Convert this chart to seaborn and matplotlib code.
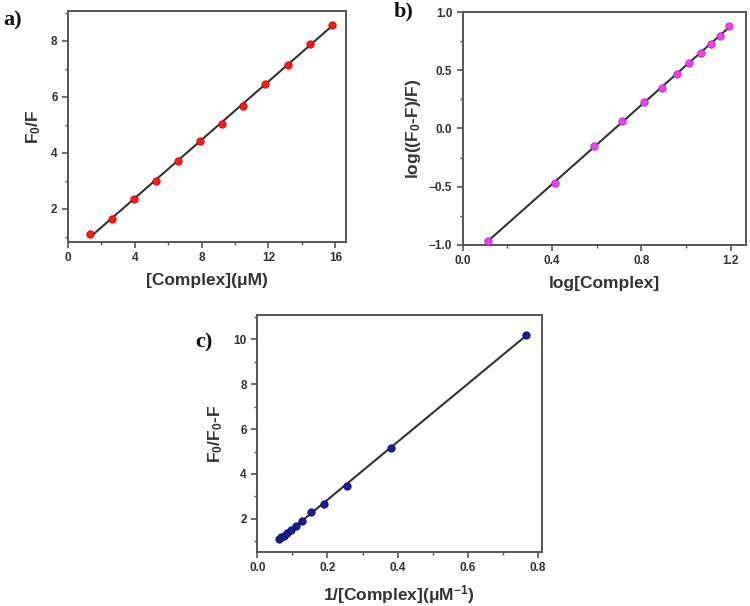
import matplotlib
matplotlib.use("Agg")
import matplotlib.pyplot as plt
import numpy as np
import pandas as pd
import seaborn as sns
from matplotlib.ticker import AutoMinorLocator, MultipleLocator, FormatStrFormatter

# panel a: Stern-Volmer
conc_um = [1.32, 2.63, 3.95, 5.26, 6.58, 7.89, 9.21, 10.5, 11.8, 13.15, 14.47, 15.78]
f0_over_f = [1.09, 1.65, 2.36, 2.98, 3.70, 4.43, 5.03, 5.69, 6.45, 7.14, 7.90, 8.56]

# panel b: double log
log_conc = [0.115, 0.414, 0.589, 0.715, 0.813, 0.891, 0.958, 1.014, 1.066, 1.111, 1.151, 1.192]
log_quench = [-0.963, -0.466, -0.149, 0.063, 0.224, 0.350, 0.470, 0.566, 0.648, 0.725, 0.793, 0.879]

# panel c: modified Stern-Volmer
inv_conc = [0.063, 0.069, 0.076, 0.085, 0.095, 0.109, 0.127, 0.153, 0.191, 0.255, 0.382, 0.765]
f0_over_df = [1.10, 1.17, 1.25, 1.36, 1.50, 1.68, 1.90, 2.30, 2.68, 3.48, 5.18, 10.18]

sns.set_style("ticks")
plt.rcParams["font.family"] = ["Liberation Sans", "DejaVu Sans"]
plt.rcParams["font.weight"] = "bold"
plt.rcParams["mathtext.fontset"] = "custom"
plt.rcParams["mathtext.rm"] = "Liberation Sans:bold"
plt.rcParams["mathtext.bf"] = "Liberation Sans:bold"
plt.rcParams["mathtext.default"] = "bf"

AXIS_GRAY = "#555555"
TEXT_GRAY = "#333333"
LABEL_SIZE = 12.5


def style_axes(ax, xmajor, ymajor):
    for sp in ax.spines.values():
        sp.set_visible(True)
        sp.set_color(AXIS_GRAY)
        sp.set_linewidth(1.4)
    ax.xaxis.set_major_locator(MultipleLocator(xmajor))
    ax.yaxis.set_major_locator(MultipleLocator(ymajor))
    ax.xaxis.set_minor_locator(AutoMinorLocator(2))
    ax.yaxis.set_minor_locator(AutoMinorLocator(2))
    ax.tick_params(which="major", direction="out", length=4, width=1.2,
                   color=AXIS_GRAY, labelsize=8.5, labelcolor=TEXT_GRAY,
                   top=False, right=False)
    ax.tick_params(which="minor", direction="out", length=2.5, width=1.0,
                   color=AXIS_GRAY, top=False, right=False)
    for lab in ax.get_xticklabels() + ax.get_yticklabels():
        lab.set_fontweight("bold")


def panel(ax, x, y, color, edge):
    df = pd.DataFrame({"x": x, "y": y})
    sns.regplot(data=df, x="x", y="y", ax=ax, scatter=False, ci=None,
                line_kws={"color": "#333333", "lw": 1.5})
    sns.scatterplot(data=df, x="x", y="y", ax=ax, color=color, s=28,
                    edgecolor=edge, linewidth=0.6, zorder=3)


fig = plt.figure(figsize=(7.5, 6.06), dpi=100)

ax_a = fig.add_axes([0.0907, 0.601, 0.371, 0.381])
panel(ax_a, conc_um, f0_over_f, "#ff1a1a", "#d00000")
ax_a.set_xlim(0, 16.66)
ax_a.set_ylim(0.82, 9.07)
style_axes(ax_a, 4, 2)
ax_a.set_xlabel("[Complex](\u03bcM)", fontsize=LABEL_SIZE, fontweight="bold", color=TEXT_GRAY, labelpad=6)
ax_a.set_ylabel("F$_{0}$/F", fontsize=LABEL_SIZE, fontweight="bold", color=TEXT_GRAY, labelpad=6)

ax_b = fig.add_axes([0.617, 0.596, 0.378, 0.384])
panel(ax_b, log_conc, log_quench, "#f040f0", "#c020c0")
ax_b.set_xlim(0, 1.27)
ax_b.set_ylim(-1.0, 1.0)
style_axes(ax_b, 0.4, 0.5)
ax_b.xaxis.set_major_formatter(FormatStrFormatter("%.1f"))
ax_b.set_xlabel("log[Complex]", fontsize=LABEL_SIZE, fontweight="bold", color=TEXT_GRAY, labelpad=6)
ax_b.set_ylabel("log((F$_{0}$-F)/F)", fontsize=LABEL_SIZE, fontweight="bold", color=TEXT_GRAY, labelpad=4)

ax_c = fig.add_axes([0.343, 0.089, 0.379, 0.391])
panel(ax_c, inv_conc, f0_over_df, "#1c1c9c", "#0a0a60")
ax_c.set_xlim(0, 0.81)
ax_c.set_ylim(0.52, 11.08)
style_axes(ax_c, 0.2, 2)
ax_c.set_xlabel("1/[Complex](\u03bcM$^{-1}$)", fontsize=LABEL_SIZE, fontweight="bold", color=TEXT_GRAY, labelpad=6)
ax_c.set_ylabel("F$_{0}$/F$_{0}$-F", fontsize=LABEL_SIZE, fontweight="bold", color=TEXT_GRAY, labelpad=6)

for txt, x, y in [("a)", 0.004, 0.982), ("b)", 0.525, 0.997), ("c)", 0.26, 0.452)]:
    fig.text(x, y, txt, fontsize=16, fontweight="bold", family="Liberation Serif",
             color="#111111", va="top", ha="left")

fig.savefig("out.png", dpi=100)
